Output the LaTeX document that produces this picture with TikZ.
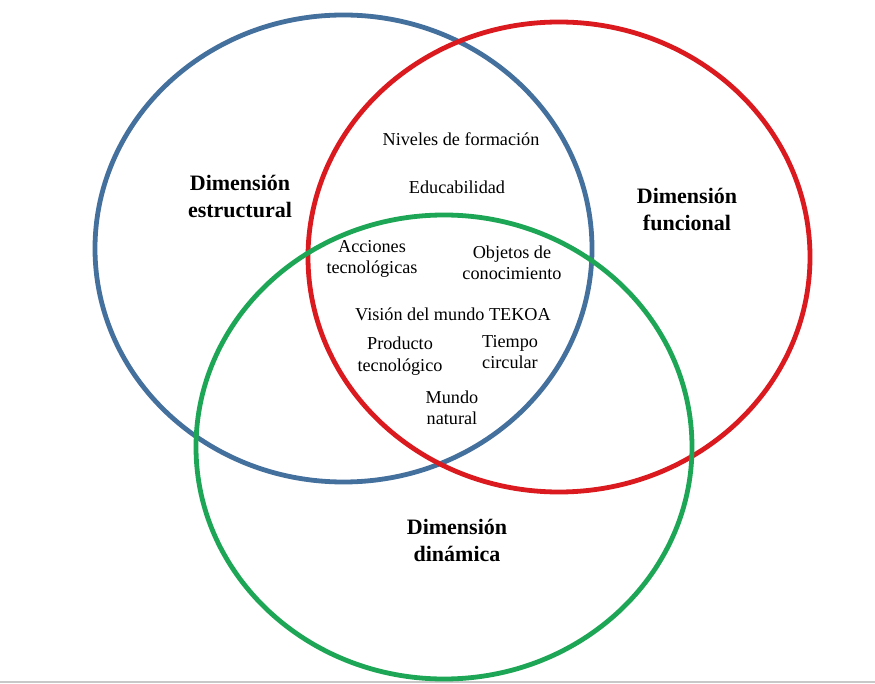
\documentclass[tikz,border=0pt]{standalone}
\usepackage{fontspec}
\setmainfont{Liberation Serif}
\definecolor{cblue}{HTML}{44709E}
\definecolor{cred}{HTML}{DA1A1E}
\definecolor{cgreen}{HTML}{1DA655}
\definecolor{cgray}{HTML}{C8C8C8}
\begin{document}
\begin{tikzpicture}[x=1pt,y=-1pt,
  ring/.style={line width=4.8pt},
  dimlabel/.style={align=center,inner sep=0pt,font=\fontsize{22}{27}\selectfont\bfseries},
  itemlabel/.style={align=center,inner sep=0pt,font=\fontsize{18.2}{21.5}\selectfont}]
\useasboundingbox (0,0) rectangle (875,684);
\fill[white] (0,0) rectangle (875,684);
\draw[cgray,line width=2pt] (0,682) -- (875,682);
\draw[ring,cblue] (343.5,248.5) ellipse [x radius=248.5,y radius=233.5];
\draw[ring,cred] (559,257) ellipse [x radius=251,y radius=235];
\draw[ring,cgreen] (444,447) ellipse [x radius=248,y radius=232];
\node[dimlabel] (estr) at (240,196) {Dimensión\\estructural};
\node[dimlabel] (func) at (687,209) {Dimensión\\funcional};
\node[dimlabel] (dina) at (457,540) {Dimensión\\dinámica};
\node[itemlabel] (niv) at (461,139) {Niveles de formación};
\node[itemlabel] (edu) at (457,187) {Educabilidad};
\node[itemlabel] (acc) at (372,259) {Acciones\\tecnológicas};
\node[itemlabel] (obj) at (512,263) {Objetos de\\conocimiento};
\node[itemlabel] (vis) at (453,314) {Visión del mundo TEKOA};
\node[itemlabel] (prod) at (400,356) {Producto\\tecnológico};
\node[itemlabel] (tiem) at (510,352) {Tiempo\\circular};
\node[itemlabel] (mund) at (452,408) {Mundo\\natural};
\end{tikzpicture}
\end{document}
